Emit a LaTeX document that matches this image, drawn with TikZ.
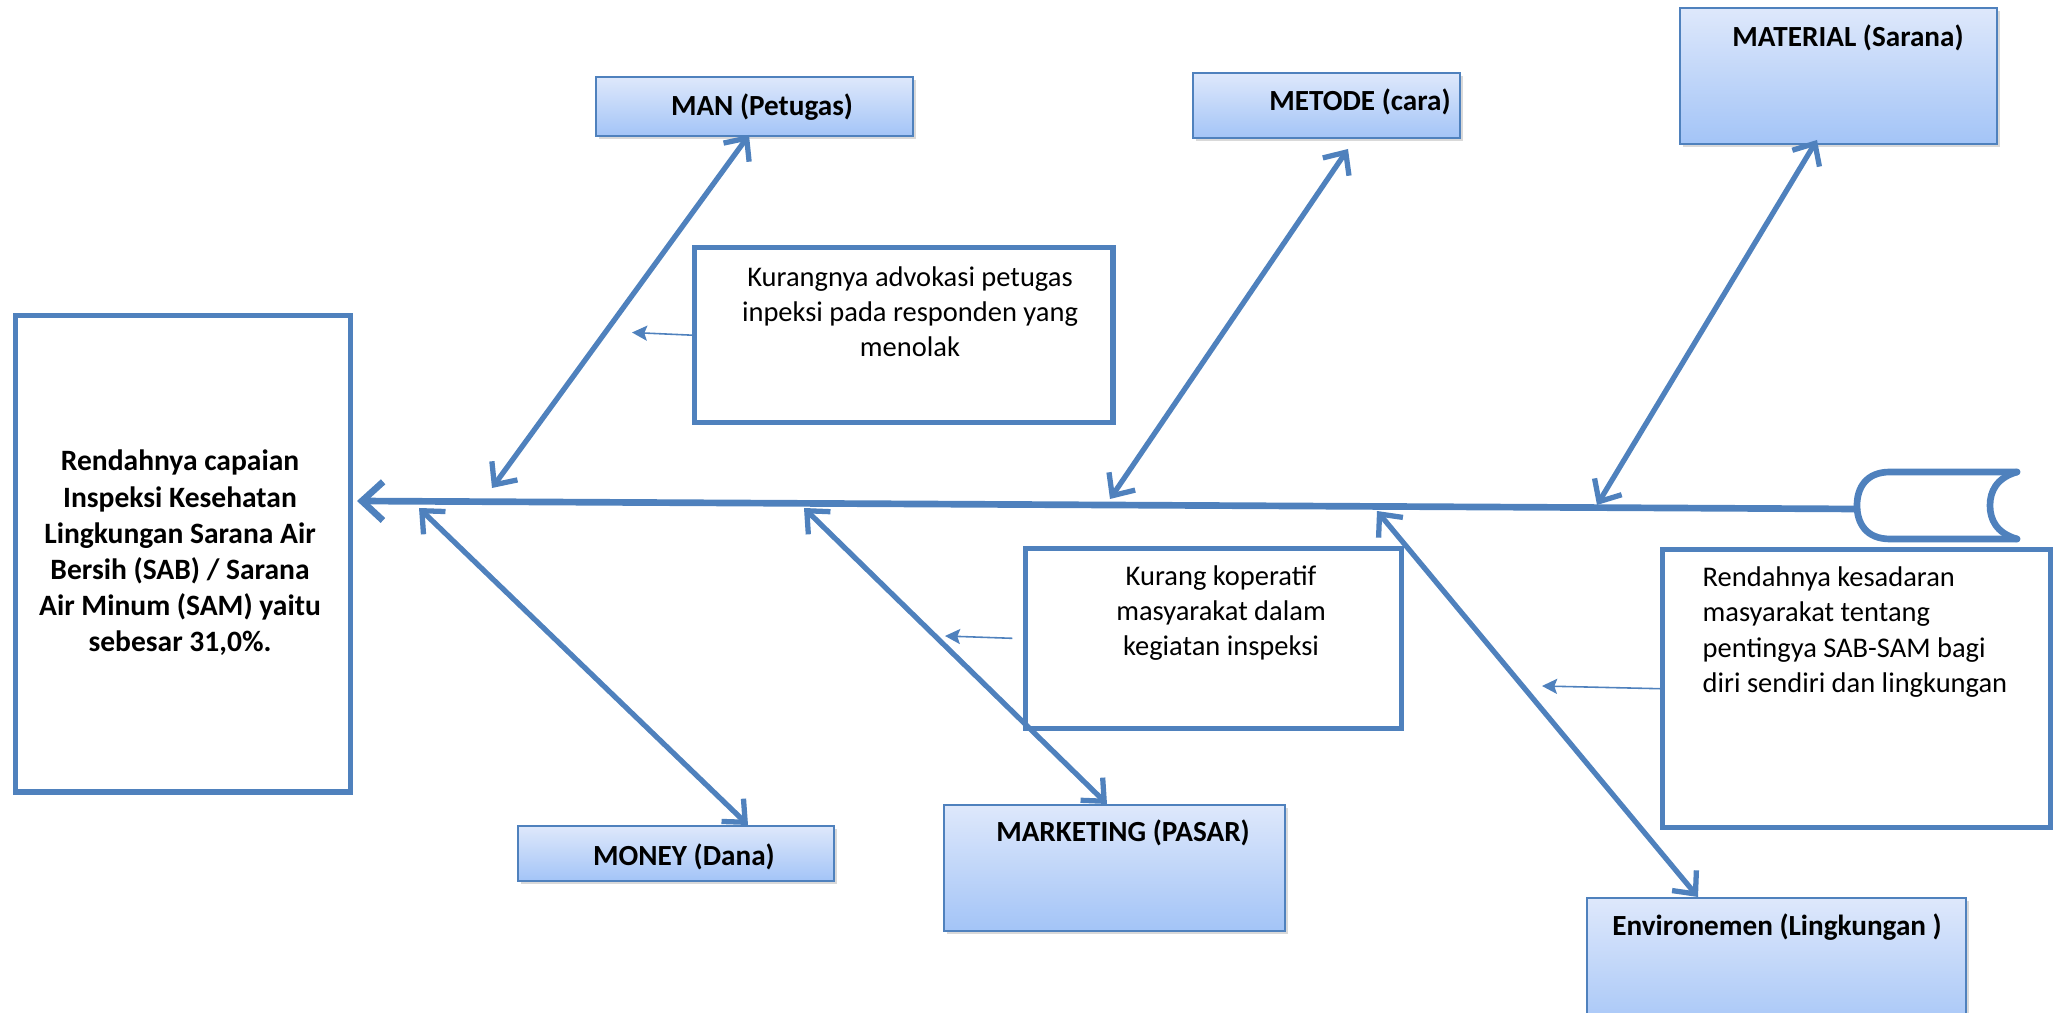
\documentclass[tikz,border=0pt]{standalone}
\usepackage{fontspec}
\setmainfont{Carlito}
\usetikzlibrary{arrows.meta,shadows}

\definecolor{ink}{RGB}{79,129,189}
\definecolor{boxtop}{RGB}{222,232,251}
\definecolor{boxbot}{RGB}{163,196,247}

\tikzset{
  spine/.style={draw=ink, line width=1.9pt, line cap=round},
  branch/.style={draw=ink, line width=1.5pt, line cap=round,
    {Straight Barb[length=5pt,width=9pt]}-{Straight Barb[length=5pt,width=9pt]}},
  pointer/.style={draw=ink, line width=0.45pt, -{Stealth[length=4.3pt,width=4.3pt,inset=0.8pt]}},
  causebox/.style={draw=ink, line width=1.5pt, fill=white, inner sep=0pt, anchor=north west},
  catbox/.style={draw=ink, line width=0.6pt, top color=boxtop, bottom color=boxbot,
    inner sep=0pt, anchor=north west,
    drop shadow={shadow xshift=0.9pt,shadow yshift=-0.9pt,opacity=0.3}},
  cattext/.style={font=\fontsize{8.3}{10}\selectfont\bfseries, inner sep=0pt},
  bodytext/.style={font=\fontsize{8.1}{10}\selectfont, align=center, inner sep=0pt},
  effecttext/.style={font=\fontsize{8.4}{10.3}\selectfont\bfseries, align=center, inner sep=0pt},
}

\begin{document}
\begin{tikzpicture}[x=0.01cm, y=-0.01cm]
  \useasboundingbox (0,0) rectangle (2053,1013);

  % effect box (head of the fish)
  \node[causebox, minimum width=3.35cm, minimum height=4.76cm] (effect) at (13,313) {};
  \node[effecttext] (effectT) at (180,553) {Rendahnya capaian\\Inspeksi Kesehatan\\Lingkungan Sarana Air\\Bersih (SAB) / Sarana\\Air Minum (SAM) yaitu\\sebesar 31,0\%.};

  % category boxes
  \node[catbox, minimum width=3.17cm, minimum height=0.59cm] (man) at (595,76) {};
  \node[cattext] (manT) at (762,107) {MAN (Petugas)};
  \node[catbox, minimum width=2.67cm, minimum height=0.65cm] (metode) at (1192,72) {};
  \node[cattext] (metodeT) at (1360,102) {METODE (cara)};
  \node[catbox, minimum width=3.17cm, minimum height=1.36cm] (material) at (1679,7) {};
  \node[cattext] (materialT) at (1848,38) {MATERIAL (Sarana)};
  \node[catbox, minimum width=3.16cm, minimum height=0.55cm] (money) at (517,825) {};
  \node[cattext] (moneyT) at (684,857) {MONEY (Dana)};
  \node[catbox, minimum width=3.41cm, minimum height=1.26cm] (marketing) at (943,804) {};
  \node[cattext] (marketingT) at (1123,833) {MARKETING (PASAR)};
  \node[catbox, minimum width=3.79cm, minimum height=1.40cm] (env) at (1586,897) {};
  \node[cattext] (envT) at (1777,927) {Environemen (Lingkungan )};

  % cause boxes
  \node[causebox, minimum width=4.18cm, minimum height=1.75cm] (cause1) at (692,245) {};
  \node[bodytext] (cause1T) at (910,312) {Kurangnya advokasi petugas\\inpeksi pada responden yang\\menolak};
  \node[causebox, minimum width=3.76cm, minimum height=1.80cm] (cause2) at (1023,546) {};
  \node[bodytext] (cause2T) at (1221,613) {Kurang koperatif\\masyarakat dalam\\kegiatan inspeksi};
  \node[causebox, minimum width=3.88cm, minimum height=2.78cm] (cause3) at (1660,547) {};
  \node[bodytext, align=left, anchor=west] (cause3T) at (1702,632) {Rendahnya kesadaran\\masyarakat tentang\\pentingya SAB-SAM bagi\\diri sendiri dan lingkungan};

  % spine and tail
  \coordinate (head) at (357,501);
  \coordinate (tail) at (1857,509);
  \draw[spine, -{Straight Barb[length=6pt,width=11pt]}] (tail) -- (head);
  \draw[spine] (2017,472) -- (1890,472)
    .. controls (1866,472) and (1857,488) .. (1857,505.5)
    .. controls (1857,523) and (1866,539) .. (1890,539) -- (2017,539);
  \draw[spine] (2017,472) .. controls (1996,478) and (1990,492) .. (1990,505.5)
    .. controls (1990,519) and (1996,533) .. (2017,539);

  % branch end points
  \coordinate (manS) at (492,488);
  \coordinate (manB) at (749,135);
  \coordinate (metodeS) at (1110,499);
  \coordinate (metodeB) at (1348,149);
  \coordinate (materialS) at (1597,505);
  \coordinate (materialB) at (1817,140);
  \coordinate (moneyS) at (419,508);
  \coordinate (moneyB) at (748,825);
  \coordinate (marketingS) at (804,508);
  \coordinate (marketingB) at (1107,804);
  \coordinate (envS) at (1377,511);
  \coordinate (envB) at (1698,897);

  \draw[branch] (manS) -- (manB);
  \draw[branch] (metodeS) -- (metodeB);
  \draw[branch] (materialS) -- (materialB);
  \draw[branch] (moneyS) -- (moneyB);
  \draw[branch] (marketingS) -- (marketingB);
  \draw[branch] (envS) -- (envB);

  % pointers from the cause boxes
  \coordinate (p1) at (632,332.5);
  \coordinate (p2) at (945,636);
  \coordinate (p3) at (1542,686);
  \draw[pointer] (cause1.west) -- (p1);
  \draw[pointer, shorten <=3pt] (cause2.west) -- (p2);
  \draw[pointer] (cause3.west) -- (p3);
\end{tikzpicture}
\end{document}
